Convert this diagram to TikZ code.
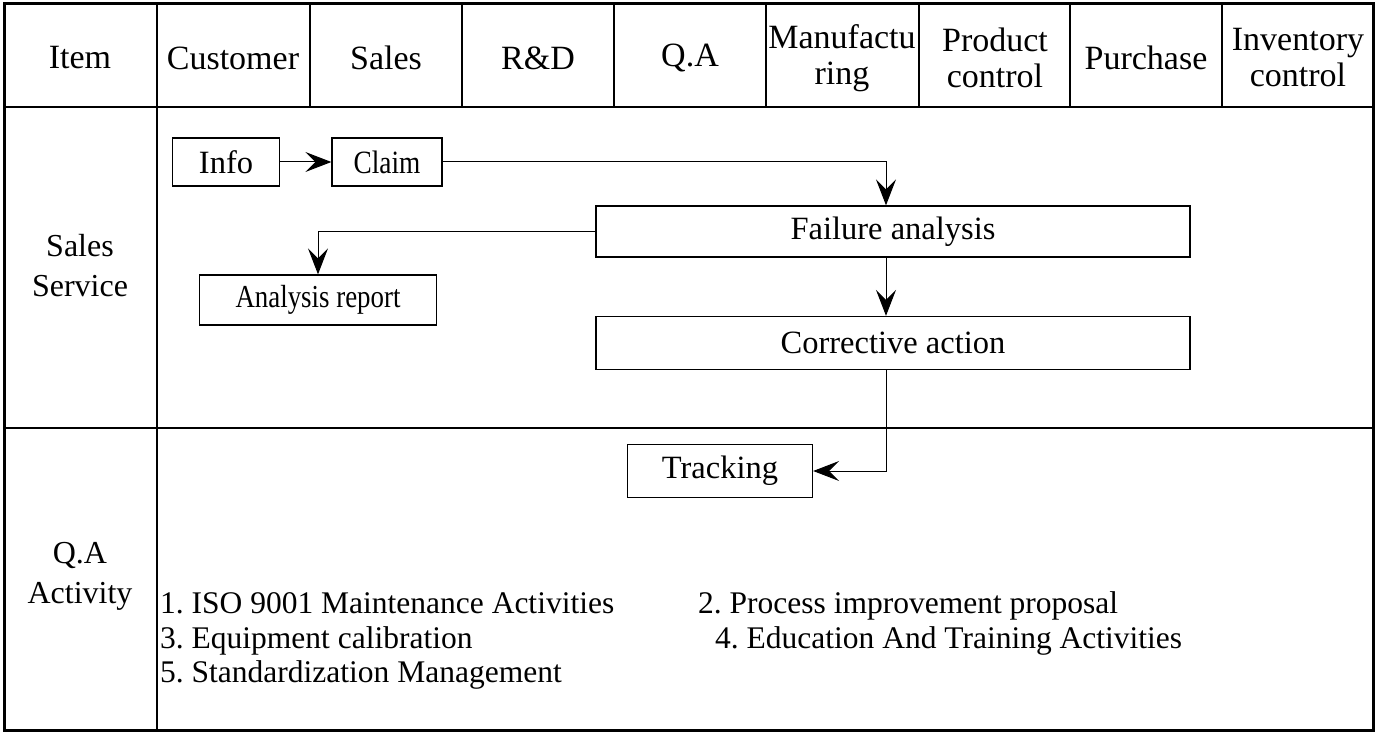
\documentclass[tikz,border=0pt]{standalone}
\usepackage{fontspec}
\setmainfont{Liberation Serif}
\newfontfamily\tightfont{Liberation Serif}[FakeStretch=0.84]
\usetikzlibrary{arrows.meta, positioning}
\frenchspacing

\begin{document}
\begin{tikzpicture}[x=1pt, y=-1pt,
    head/.style={align=center, inner sep=0pt, font=\fontsize{34}{36}\selectfont},
    side/.style={align=center, inner sep=0pt, font=\fontsize{32}{40}\selectfont},
    box/.style={draw, line width=1.3pt, inner sep=0pt, font=\fontsize{32.5}{36}\selectfont},
    item/.style={anchor=base west, inner sep=0pt, font=\fontsize{31.5}{34}\selectfont},
    flow/.style={line width=1pt, -{Stealth[length=26pt, width=20pt, inset=10pt]}}]
    \useasboundingbox (0,0) rectangle (1377,733);

    % table
    \draw[line width=3pt] (4,4) rectangle (1373,730);
    \draw[line width=2pt] (4,107) -- (1373,107) (4,428) -- (1373,428) (157,4) -- (157,730);
    \foreach \x in {310,462,614,766,919,1070,1222}
        \draw[line width=2pt] (\x,4) -- (\x,107);

    \foreach \x/\lbl [count=\i] in {80/Item, 233/Customer, 386/Sales, 538/R\&D, 690/Q.A,
        842/Manufactu\\ring, 995/Product\\control, 1146/Purchase, 1298/Inventory\\control}
        \node[head] (h\i) at (\x,58) {\lbl};

    \node[side] (srv) at (80,266) {Sales\\Service};
    \node[side] (qaa) at (80,576) {Q.A\\Activity};

    % flow
    \coordinate (spine) at (886,0);
    \node[box, minimum width=107pt, minimum height=48pt] (info) at (226,162) {Info};
    \node[box, minimum width=110pt, minimum height=48pt, font=\fontsize{32.5}{36}\tightfont] (claim) at (387,162) {Claim};
    \node[box, minimum width=594pt, minimum height=51pt] (fail) at (893,231.5) {Failure analysis};
    \node[box, minimum width=237pt, minimum height=50pt, font=\fontsize{32}{36}\tightfont] (rep) at (318,300) {Analysis report};
    \node[box, minimum width=594pt, minimum height=53pt] (corr) at (893,343) {Corrective action};
    \node[box, minimum width=185pt, minimum height=53pt] (track) at (720,471) {Tracking};

    \draw[flow] (info) -- (claim);
    \draw[flow] (claim.east) -| (fail.north -| spine);
    \draw[flow] (fail.west) -| (rep.north);
    \draw[flow] (fail.south -| spine) -- (corr.north -| spine);
    \draw[flow] (corr.south -| spine) |- (track.east);

    % activities
    \node[item] (a1) at (160,613) {1. ISO 9001 Maintenance Activities};
    \node[item] (a3) at (160,648) {3. Equipment calibration};
    \node[item] (a5) at (160,682) {5. Standardization Management};
    \node[item] (a2) at (698,613) {2. Process improvement proposal};
    \node[item] (a4) at (715,648) {4. Education And Training Activities};
\end{tikzpicture}
\end{document}
